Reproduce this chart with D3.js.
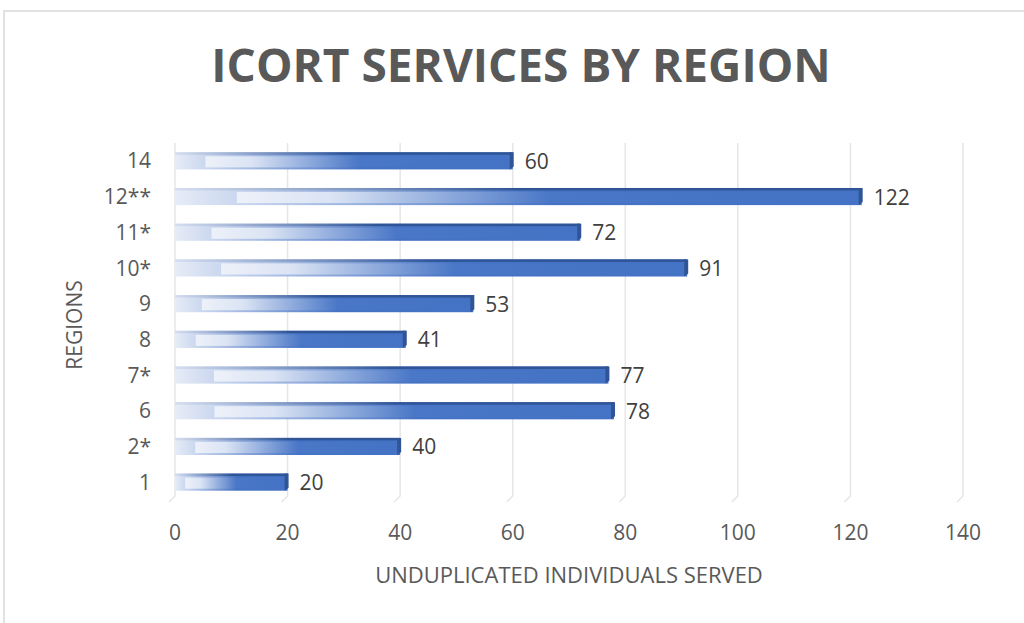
<!DOCTYPE html>
<html>
<head>
<meta charset="utf-8">
<script src="https://cdn.jsdelivr.net/npm/d3@7"></script>
<style>
  body { margin: 0; background: #fff; }
  text { font-family: "Open Sans", sans-serif; }
</style>
</head>
<body>
<script>
// data, top to bottom as in the picture
const regions = ['14', '12**', '11*', '10*', '9', '8', '7*', '6', '2*', '1'];
const served = [60, 122, 72, 91, 53, 41, 77, 78, 40, 20];
const xTicks = [0, 20, 40, 60, 80, 100, 120, 140];

const W = 1024, H = 623;
const margin = {top: 143, bottom: 123, left: 175, right: 61};
const width = W - margin.left - margin.right;
const height = H - margin.top - margin.bottom;

const svg = d3.select('body').append('svg')
  .attr('width', W)
  .attr('height', H);

// chart frame
svg.append('rect')
  .attr('x', 4).attr('y', 11)
  .attr('width', W + 10).attr('height', H + 10)
  .attr('fill', '#fff')
  .attr('stroke', '#d9d9d9')
  .attr('stroke-width', 1.5);

// gradients for the cylinder-ish bars
const defs = svg.append('defs');
const outer = defs.append('linearGradient').attr('id', 'outerGrad');
[[0, '#e6ecf7'], [0.1, '#c8d5ee'], [0.55, '#4472c4'], [1, '#4472c4']].forEach(s =>
  outer.append('stop').attr('offset', s[0]).attr('stop-color', s[1]));
const inner = defs.append('linearGradient').attr('id', 'innerGrad');
[[0, '#edf1f9'], [0.15, '#dbe4f4'], [0.5, '#4a77c7'], [1, '#4472c4']].forEach(s =>
  inner.append('stop').attr('offset', s[0]).attr('stop-color', s[1]));
const topGrad = defs.append('linearGradient').attr('id', 'topGrad');
[[0, '#d5def0'], [0.5, '#2f5597'], [1, '#2f5597']].forEach(s =>
  topGrad.append('stop').attr('offset', s[0]).attr('stop-color', s[1]));

const g = svg.append('g')
  .attr('transform', `translate(${margin.left},${margin.top})`);

// scales
const xscale = d3.scaleLinear().domain([0, 140]).range([0, width]);
const yscale = d3.scaleBand().domain(regions).range([0, height]).paddingInner(0.52).paddingOuter(0.26);

// gridlines with a little floor kink at the bottom
g.append('g').selectAll('path')
  .data(xTicks)
  .join('path')
  .attr('d', d => `M${xscale(d)},0 V${height - 4} l-6,6`)
  .attr('fill', 'none')
  .attr('stroke', '#e6e6e6')
  .attr('stroke-width', 1.5);

// x tick labels
g.append('g').selectAll('text')
  .data(xTicks)
  .join('text')
  .attr('x', d => xscale(d))
  .attr('y', height + 40)
  .attr('text-anchor', 'middle')
  .attr('font-size', 21)
  .attr('fill', '#595959')
  .text(d => d);

// category labels
g.append('g').selectAll('text')
  .data(regions)
  .join('text')
  .attr('x', -24)
  .attr('y', d => yscale(d) + yscale.bandwidth() / 2)
  .attr('dy', '0.36em')
  .attr('text-anchor', 'end')
  .attr('font-size', 21)
  .attr('fill', '#595959')
  .text(d => d);

const data = regions.map((r, i) => ({region: r, value: served[i]}));
const bh = yscale.bandwidth();

const bars = g.append('g').selectAll('g')
  .data(data)
  .join('g')
  .attr('transform', d => `translate(0,${yscale(d.region)})`);

bars.append('rect')
  .attr('x', 0).attr('y', 0)
  .attr('width', d => xscale(d.value))
  .attr('height', bh)
  .attr('fill', 'url(#outerGrad)');

bars.append('rect')
  .attr('x', d => xscale(d.value) * 0.09)
  .attr('y', 4)
  .attr('width', d => xscale(d.value) * 0.91)
  .attr('height', bh - 6)
  .attr('fill', 'url(#innerGrad)');

bars.append('rect')
  .attr('x', 0).attr('y', 0)
  .attr('width', d => xscale(d.value))
  .attr('height', 2.5)
  .attr('fill', 'url(#topGrad)');

// right end cap
bars.append('path')
  .attr('d', d => {
    const x = xscale(d.value);
    return `M${x - 3},0 H${x + 1} V${bh - 3} L${x - 3},${bh} Z`;
  })
  .attr('fill', '#2f5597');

// value labels
bars.append('text')
  .attr('x', d => xscale(d.value) + 12)
  .attr('y', bh / 2)
  .attr('dy', '0.38em')
  .attr('font-size', 21)
  .attr('fill', '#404040')
  .text(d => d.value);

// titles
svg.append('text')
  .attr('x', 521).attr('y', 82)
  .attr('text-anchor', 'middle')
  .attr('font-family', 'Lato, sans-serif')
  .attr('font-size', 46)
  .attr('font-weight', 'bold')
  .attr('fill', '#595959')
  .text('ICORT SERVICES BY REGION');

svg.append('text')
  .attr('x', margin.left + xscale(70)).attr('y', 583)
  .attr('text-anchor', 'middle')
  .attr('font-size', 22)
  .attr('fill', '#595959')
  .text('UNDUPLICATED INDIVIDUALS SERVED');

svg.append('text')
  .attr('transform', 'translate(82,325) rotate(-90)')
  .attr('text-anchor', 'middle')
  .attr('font-size', 21)
  .attr('fill', '#595959')
  .text('REGIONS');
</script>
</body>
</html>
